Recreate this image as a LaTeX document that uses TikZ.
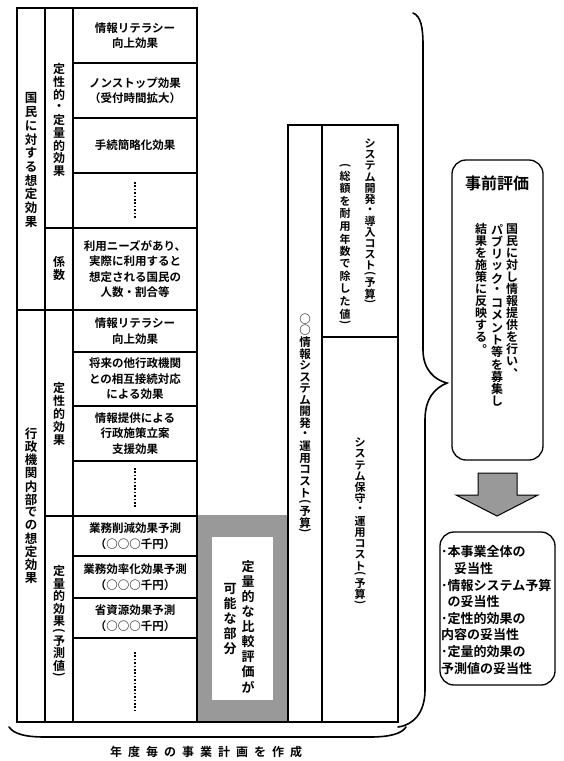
\documentclass[tikz,border=0pt]{standalone}
\usepackage{fontspec}
\setmainfont{Noto Sans CJK JP}[BoldFont={Noto Sans CJK JP Bold}]
\usepackage{graphicx}

% testo verticale (un carattere per riga)
\newlength\tatestep
\setlength\tatestep{13pt}
\def\tateend{TATEEND}
\newcommand\tatechar[1]{\hbox to 1em{\hss\vbox to\tatestep{\vss\hbox{#1}\vss}\hss}}
\def\tateloop#1{\ifx#1\tateend\else\ifcat\noexpand#1\relax#1\else\tatechar{#1}\fi\expandafter\tateloop\fi}
\newcommand\tate[1]{\vtop{\offinterlineskip\tateloop#1\tateend}}
\newcommand\vlp{\hbox to 1em{\hss\vbox to .55\tatestep{\vss\hbox{\rotatebox[origin=c]{-90}{(}}\vss}\hss}}
\newcommand\vrp{\hbox to 1em{\hss\vbox to .55\tatestep{\vss\hbox{\rotatebox[origin=c]{-90}{)}}\vss}\hss}}
% testo orizzontale spaziato
\def\yokoloop#1{\ifx#1\tateend\else#1\kern6pt\expandafter\yokoloop\fi}
\newcommand\spaziato[1]{\yokoloop#1\tateend\unkern}

\begin{document}
\begin{tikzpicture}[x=1pt,y=-1pt,
    griglia/.style={line width=1.2pt},
    cella/.style={align=center,inner sep=0pt,font=\fontsize{11.5}{15.5}\selectfont\bfseries},
    tate/.style={inner sep=0pt,font=\bfseries\fontsize{#1}{#1}\selectfont\setlength\tatestep{#1}},
    tate/.default=12pt,
    passo/.style={execute at begin node={\setlength\tatestep{#1}}},
    puntini/.style={line width=1.8pt,dash pattern=on 1.6pt off 1.8pt},
    ombra/.style={fill=black!40},
    riquadro/.style={draw,line width=1.3pt,rounded corners=14pt},
    graffa/.style={line width=1.6pt,line cap=round}]
    \useasboundingbox (0,0) rectangle (564,761);

    % Parte grigia (confronto quantitativo)
    \fill[ombra] (197,515) rectangle (288,722);
    \fill[white] (212,537) rectangle (273,700);
    \node[tate=13pt,passo=15pt] (confronto) at (248,627) {\tate{定量的な比較評価が}};
    \node[tate=13pt,passo=15pt] (possibile) at (230,619) {\tate{可能な部分}};

    % Tabella degli effetti
    \draw[griglia] (17,8) rectangle (197,722);
    \draw[griglia] (45,8) -- (45,722) (73,8) -- (73,722);
    \draw[griglia] (17,310) -- (197,310);
    \draw[griglia] (45,228) -- (197,228) (45,516) -- (197,516);
    \foreach \y in {63,118,173,352,406,461,556,598,638}
        \draw[griglia] (73,\y) -- (197,\y);
    \draw[griglia] (197,722) -- (288,722);

    % Colonna 1 e 2
    \node[tate=12.5pt,passo=13.7pt] (cittadini) at (31,160) {\tate{国民に対する想定効果}};
    \node[tate=12.5pt,passo=13.1pt] (interno) at (31,506) {\tate{行政機関内部での想定効果}};
    \node[tate=12pt,passo=12.8pt] (qualquant) at (59,120) {\tate{定性的・定量的効果}};
    \node[tate=12pt,passo=13pt] (coeff) at (59,268) {\tate{係数}};
    \node[tate=12pt,passo=13pt] (qual) at (59,414) {\tate{定性的効果}};
    \node[tate=12pt,passo=12.5pt] (quant) at (59,622) {\tate{定量的効果\vlp 予測値\vrp}};

    % Colonna 3
    \node[cella] (literacy1) at (135,35.5) {情報リテラシー\\向上効果};
    \node[cella] (nonstop) at (135,90.5) {ノンストップ効果\\（受付時間拡大）};
    \node[cella] (procedure) at (135,145.5) {手続簡略化効果};
    \draw[puntini] (135,182) -- (135,218);
    \node[cella] (utenti) at (135,269) {利用ニーズがあり、\\実際に利用すると\\想定される国民の\\人数・割合等};
    \node[cella] (literacy2) at (135,331) {情報リテラシー\\向上効果};
    \node[cella] (connessione) at (135,379) {将来の他行政機関\\との相互接続対応\\による効果};
    \node[cella] (supporto) at (135,433.5) {情報提供による\\行政施策立案\\支援効果};
    \draw[puntini] (135,468) -- (135,508);
    \node[cella] (riduzione) at (135,536) {業務削減効果予測\\（○○○千円）};
    \node[cella] (efficienza) at (135,577) {業務効率化効果予測\\（○○○千円）};
    \node[cella] (risorse) at (135,618) {省資源効果予測\\（○○○千円）};
    \draw[puntini] (135,652) -- (135,713);

    % Tabella dei costi
    \draw[griglia] (288,125) rectangle (398,722);
    \draw[griglia] (322,125) -- (322,722);
    \draw[griglia] (322,337) -- (398,337);
    \node[tate=11.5pt,passo=11.6pt,anchor=north] (costo) at (305,313) {\tate{○○情報システム開発・運用コスト\vlp 予算\vrp}};
    \node[tate=11pt,passo=11.1pt,anchor=north] (sviluppo) at (370,138) {\tate{システム開発・導入コスト\vlp 予算\vrp}};
    \node[tate=11pt,passo=12.5pt,anchor=north] (nota) at (345,163) {\tate{\vlp 総額を耐用年数で除した値\vrp}};
    \node[tate=11pt,passo=11.2pt,anchor=north] (esercizio) at (360,437) {\tate{システム保守・運用コスト\vlp 予算\vrp}};

    % Graffe
    \draw[graffa] (413,13) .. controls (421,16) and (423,28) .. (423,45) -- (423,350)
        .. controls (423,370) and (435,380) .. (447,383)
        .. controls (435,388) and (425,398) .. (425,420) -- (425,690)
        .. controls (425,712) and (414,725) .. (398,727);
    \draw[graffa] (9,727) .. controls (14,734) and (25,737) .. (45,737) -- (370,737)
        .. controls (392,737) and (402,733) .. (406,727);
    \node[font=\fontsize{12}{12}\selectfont\bfseries,inner sep=0pt] (piano) at (206,752) {\spaziato{年度毎の事業計画を作成}};

    % Valutazione preventiva
    \node[riquadro,minimum width=91pt,minimum height=300pt] (jizen) at (497.5,310) {};
    \node[font=\fontsize{16}{16}\selectfont\bfseries,inner sep=0pt] (titolo) at (497,183) {事前評価};
    \node[tate=12pt,anchor=north] (riga1) at (512,223) {\tate{国民に対し情報提供を行い︑}};
    \node[tate=12pt,passo=12.3pt,anchor=north] (riga2) at (497,223) {\tate{パブリック・コメント等を募集し}};
    \node[tate=12pt,anchor=north] (riga3) at (481,223) {\tate{結果を施策に反映する︒}};

    % Freccia verso il basso
    \draw[line width=1pt,ombra] (478,473) -- (517,473) -- (517,495) -- (538,495)
        -- (497,516) -- (456,495) -- (478,495) -- cycle;

    % Criteri di valutazione
    \node[riquadro,minimum width=115pt,minimum height=153pt] (esito) at (497.5,608.5) {};
    \node[align=left,anchor=west,inner sep=0pt,font=\fontsize{13}{16.6}\selectfont\bfseries] (criteri) at (441,610)
        {･本事業全体の\\\hspace*{1em}妥当性\\･情報システム予算\\\hspace*{.5em}の妥当性\\･定性的効果の\\内容の妥当性\\･定量的効果の\\予測値の妥当性};
\end{tikzpicture}
\end{document}
